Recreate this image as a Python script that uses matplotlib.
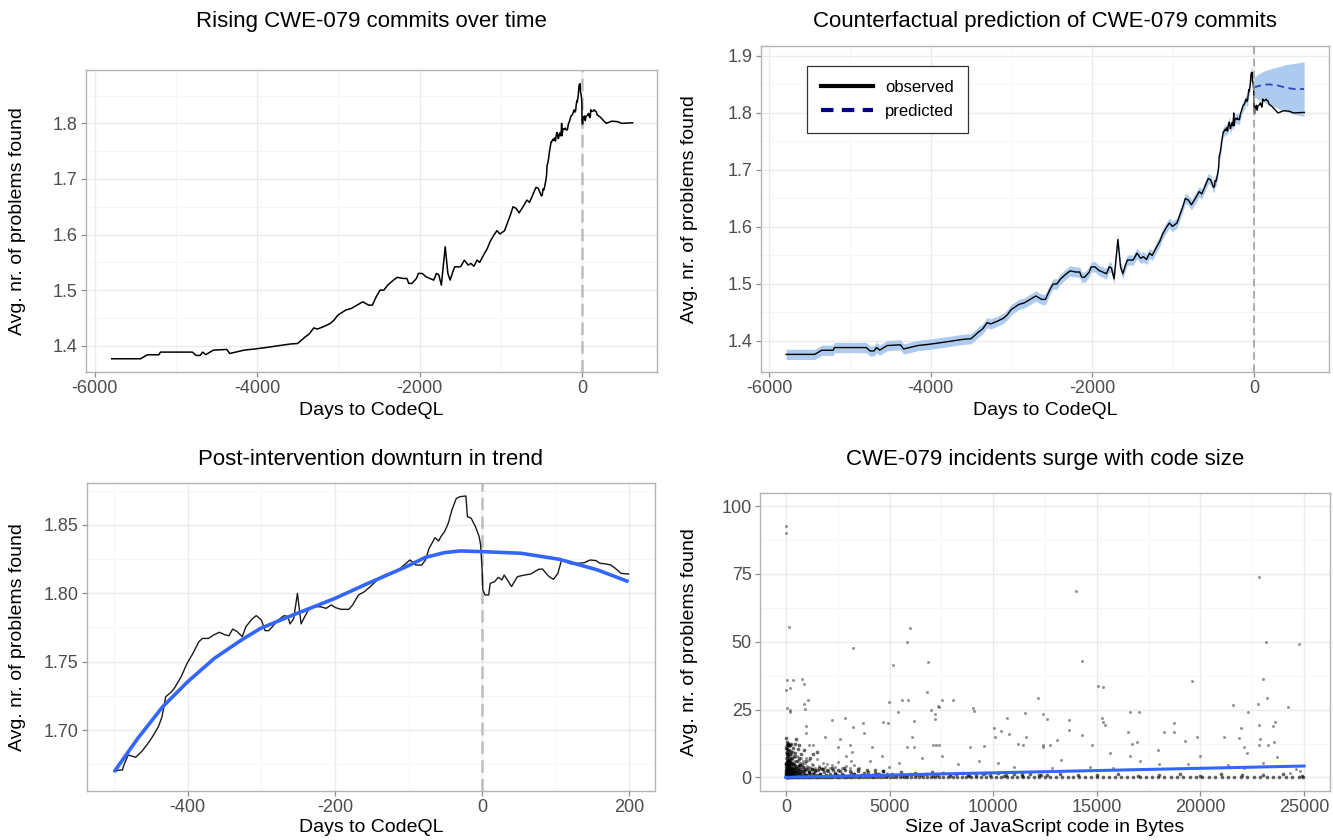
import numpy as np
import matplotlib
matplotlib.use("Agg")
import matplotlib.pyplot as plt
from matplotlib.ticker import AutoMinorLocator, FormatStrFormatter
from matplotlib.lines import Line2D

plt.rcParams['font.family'] = ['Liberation Sans', 'DejaVu Sans']
plt.rcParams['axes.unicode_minus'] = False

# daily mean of problems found, relative to CodeQL introduction (day 0)
days = [-5788, -5434, -5349, -5208, -5189, -4797, -4750, -4700, -4670, -4630, -4538, -4373,
        -4335, -4160, -4005, -3877, -3736, -3594, -3500, -3406, -3358, -3302, -3255, -3170,
        -3099, -3052, -3005, -2910, -2840, -2769, -2698, -2627, -2580, -2533, -2486, -2439,
        -2392, -2321, -2274, -2203, -2156, -2132, -2094, -2038, -2014, -1967, -1920, -1873,
        -1825, -1792, -1764, -1731, -1684, -1651, -1623, -1590, -1566, -1495, -1448, -1401,
        -1368, -1330, -1292, -1259, -1212, -1165, -1132, -1085, -1047, -1009, -953, -882,
        -849, -811, -774, -726, -679, -646, -599, -566, -538,
        -500, -494, -489, -486, -481, -476, -471, -463, -455, -448, -440, -435, -430, -422,
        -417, -409, -401, -393, -385, -380, -372, -365, -357, -349, -344, -339, -333, -326,
        -321, -313, -307, -300, -295, -290, -285, -277, -269, -264, -261, -256, -251, -246,
        -241, -235, -228, -220, -212, -205, -199, -192, -181, -176, -168, -160, -153, -145,
        -137, -129, -121, -114, -106, -98, -90, -82, -77, -72, -64, -59, -56, -51, -46, -41,
        -35, -30, -22, -20, -15, -9, -4, -2, 0, 1, 4, 9, 11, 17, 22, 27, 30, 35, 40, 48, 58,
        66, 77, 82, 90, 97, 103, 108, 113, 121, 131, 139, 147, 155, 160, 168, 175, 181, 189,
        199, 226, 297, 368, 439, 486, 623]
avg_found = [1.3765, 1.3765, 1.3837, 1.3837, 1.3885, 1.3885, 1.3825, 1.3825, 1.3885, 1.384,
             1.392, 1.3933, 1.386, 1.392, 1.3945, 1.397, 1.400, 1.403, 1.404, 1.416, 1.421,
             1.432, 1.430, 1.435, 1.440, 1.446, 1.455, 1.464, 1.467, 1.473, 1.479, 1.473,
             1.473, 1.488, 1.500, 1.500, 1.509, 1.518, 1.523, 1.521, 1.521, 1.512, 1.512,
             1.521, 1.530, 1.530, 1.524, 1.521, 1.518, 1.530, 1.528, 1.509, 1.578, 1.530,
             1.518, 1.533, 1.542, 1.542, 1.554, 1.545, 1.548, 1.543, 1.554, 1.550, 1.563,
             1.575, 1.587, 1.599, 1.607, 1.601, 1.607, 1.635, 1.650, 1.647, 1.639, 1.650,
             1.662, 1.658, 1.674, 1.685, 1.683,
             1.6695, 1.6707, 1.6707, 1.6756, 1.6817, 1.681, 1.680, 1.6841, 1.6895, 1.6951,
             1.7024, 1.7098, 1.7244, 1.728, 1.7317, 1.739, 1.7488, 1.7561, 1.7646, 1.767,
             1.767, 1.7695, 1.7715, 1.7695, 1.769, 1.7739, 1.772, 1.7683, 1.7756, 1.781,
             1.7837, 1.7805, 1.7727, 1.7727, 1.7756, 1.7805, 1.7837, 1.783, 1.7776, 1.7817,
             1.800, 1.7776, 1.783, 1.789, 1.7902, 1.7902, 1.789, 1.7915, 1.7895, 1.7883,
             1.7883, 1.7915, 1.7988, 1.8012, 1.8044, 1.8085, 1.8122, 1.8141, 1.8151, 1.8171,
             1.8207, 1.8244, 1.8207, 1.8207, 1.8244, 1.8329, 1.8407, 1.8383, 1.8415, 1.8451,
             1.8512, 1.861, 1.8695, 1.8707, 1.8712, 1.8561, 1.855, 1.8488, 1.8415, 1.8354,
             1.817, 1.8024, 1.7988, 1.7988, 1.8073, 1.8085, 1.8117, 1.8098, 1.8134, 1.8093,
             1.8049, 1.8122, 1.8134, 1.8141, 1.8176, 1.8178, 1.8127, 1.8102, 1.8146, 1.8244,
             1.8232, 1.8215, 1.822, 1.8224, 1.8244, 1.8239, 1.822, 1.8215, 1.8207, 1.8183,
             1.8146, 1.8141, 1.811, 1.800, 1.804, 1.803, 1.800, 1.801]
band_half = 0.009  # half width of the model band before day 0

# counterfactual after day 0
pred_days = [0, 50, 100, 150, 200, 250, 300, 350, 400, 450, 500, 550, 620]
pred_mean = [1.845, 1.847, 1.849, 1.850, 1.850, 1.849, 1.848, 1.846, 1.844, 1.843, 1.842, 1.842, 1.842]
pred_upper = [1.862, 1.868, 1.872, 1.875, 1.877, 1.879, 1.881, 1.883, 1.885, 1.886, 1.887, 1.888, 1.890]
pred_lower = [1.828, 1.824, 1.820, 1.817, 1.814, 1.811, 1.808, 1.805, 1.802, 1.800, 1.798, 1.796, 1.794]

# smoothed trend around the intervention
smooth_days = [-500, -468, -434, -400, -364, -327, -301, -259, -200, -155, -103, -77, -51, -30,
               0, 53, 105, 157, 199]
smooth_vals = [1.6695, 1.6939, 1.7171, 1.7354, 1.7524, 1.7659, 1.7744, 1.7837, 1.7963, 1.8073,
               1.8195, 1.8263, 1.8298, 1.8310, 1.8305, 1.8293, 1.8249, 1.8171, 1.8085]

# repositories: code size vs problems found
out_x = [0, 0, 140, 6000, 5830, 3260, 5190, 6850, 14000, 14300, 22830, 23180, 24760, 23020, 19570,
         15050, 15280, 12160, 7540, 8070, 5610, 5870, 4960, 6790, 23220, 24210, 22790, 21550, 60,
         320, 770, 850, 1050, 850, 910, 200, 20, 60, 180, 220, 9030, 9070, 7000, 7330, 7400, 7170,
         7190, 5410, 6170, 4700, 4940, 3730, 2860, 2230, 3220, 3770, 10660, 11550, 12380, 12600,
         13650, 15240, 15320, 15380, 16610, 17050, 18700, 18700, 18230, 16510, 22290, 23600,
         23520, 22820, 21940, 21150, 13650, 14300, 10050, 10400, 10090, 10760, 11570, 11220,
         11430, 12400, 12380, 12720, 14750, 13090, 16920, 16710, 17950, 19270, 19810, 20000,
         21860, 22090, 22260, 22880, 23560, 23280, 23700, 22830, 8900, 9300, 9580, 7080, 7220,
         7370, 6080, 6180, 5840, 6570, 7520, 5450, 4620, 4170, 3080, 2490, 2630, 1890, 1320, 1100,
         970, 990, 2880, 3180, 3140, 4070, 4960, 8310, 10210, 11000, 12830, 14690, 15760, 16610,
         17100, 18010, 19380, 21350, 22110, 23030, 24610, 24800, 24300, 13290, 15660]
out_y = [92.8, 89.9, 55.3, 55.0, 49.8, 47.7, 41.5, 42.4, 68.7, 43.0, 73.7, 49.8, 49.3, 36.1, 35.7,
         33.7, 33.3, 29.4, 28.7, 28.7, 28.7, 28.7, 27.7, 31.5, 29.1, 25.9, 26.9, 26.7, 36.0,
         36.0, 36.1, 34.5, 28.5, 26.9, 25.2, 32.9, 32.3, 25.7, 25.0, 24.0, 25.5, 24.3, 25.0, 26.5,
         26.0, 23.2, 21.7, 24.0, 20.9, 20.5, 20.0, 20.0, 22.0, 21.3, 18.6, 16.2, 22.0, 23.8, 23.3,
         21.6, 21.3, 22.0, 20.5, 19.4, 24.0, 24.0, 20.0, 16.6, 16.6, 16.8, 24.0, 20.5, 18.9, 19.2,
         18.1, 15.0, 17.6, 15.5, 18.1, 17.2, 15.0, 15.9, 15.0, 12.5, 11.9, 11.8, 11.1, 11.9, 11.8,
         13.7, 13.2, 12.5, 10.2, 13.5, 15.0, 7.9, 14.5, 11.1, 9.0, 14.0, 12.9, 12.0, 7.5, 12.0,
         11.1, 6.0, 11.5, 12.0, 12.0, 11.8, 15.0, 11.1, 11.1, 7.0, 7.9, 5.2, 7.9, 11.3, 11.8, 11.1,
         14.2, 15.0, 11.8, 11.8, 19.0, 16.2, 7.9, 9.5, 6.0, 6.0, 4.0, 4.9, 5.5, 4.0, 3.6, 4.0, 3.5,
         7.9, 6.0, 4.9, 4.9, 4.6, 3.6, 5.5, 3.0, 2.5, 1.5, 6.4, 9.0]
dense_x = [10, 30, 50, 80, 100, 120, 160, 200, 240, 20, 60, 90, 140, 30, 70, 110, 180, 260, 330,
           420, 500, 40, 80, 130, 200, 280, 380, 460, 560, 640, 20, 60, 100, 150, 220, 300, 400,
           520, 620, 750, 880, 30, 70, 120, 180, 250, 350, 450, 560, 680, 800, 950, 1150, 1300,
           1500, 20, 60, 110, 170, 240, 320, 400, 500, 600, 720, 850, 980, 1100, 1250, 1400, 1600,
           1800, 2000, 2200, 2500, 2800, 3100, 3500, 3900, 4300, 4700, 5, 25, 45, 75, 150, 15, 35,
           55, 85, 115, 135, 165, 195, 230, 270, 310, 360, 430, 510, 610, 700, 820, 960, 1120,
           1350, 1650, 1950, 2350, 2750, 3300, 3800, 4400, 4900, 5600, 6300, 7100, 7900, 8800,
           9600, 10500, 11400, 12300, 13200, 14100, 15000, 16000, 17000, 18000, 19000, 20000,
           21000, 22000, 23000, 24000, 24900]
dense_y = [14.5, 13.0, 12.0, 12.0, 12.2, 11.8, 12.0, 12.0, 12.3, 11.0, 10.5, 9.8, 10.0, 9.0, 8.5,
           8.0, 8.8, 9.5, 11.0, 12.5, 14.0, 7.0, 6.5, 6.0, 6.8, 7.2, 8.0, 9.0, 10.5, 12.0, 5.0,
           4.5, 5.2, 4.3, 4.8, 5.5, 5.0, 6.0, 7.0, 8.5, 10.0, 3.5, 3.0, 3.8, 3.2, 3.6, 3.0, 3.5,
           4.0, 4.5, 5.0, 6.0, 7.0, 8.5, 9.5, 2.2, 2.0, 2.5, 2.2, 2.6, 2.0, 2.4, 2.1, 2.6, 2.2, 2.8,
           3.0, 2.5, 3.2, 2.8, 3.5, 3.0, 2.6, 3.3, 2.8, 3.5, 2.5, 3.0, 2.6, 2.8, 2.4, 1.5, 1.2, 1.6,
           1.1, 1.4, 0.8, 0.9, 1.0, 0.7, 1.1, 0.8, 1.2, 0.9, 1.3, 1.0, 1.4, 1.1, 1.5, 0.9, 1.6, 1.2,
           1.3, 1.0, 1.5, 1.1, 1.3, 0.9, 1.2, 1.0, 1.4, 0.8, 1.1, 1.3, 0.7, 1.0, 0.6, 1.2, 0.8, 1.5,
           0.7, 1.1, 0.9, 1.3, 1.0, 0.8, 1.2, 0.6, 0.9, 1.1, 0.7, 1.4, 0.8, 1.0, 1.2, 0.6]
band_x = [5, 12, 20, 28, 35, 44, 52, 60, 70, 80, 90, 100, 112, 125, 138, 150, 165, 180, 195, 210,
          228, 246, 265, 285, 305, 330, 355, 380, 410, 440, 470, 500, 535, 570, 610, 650, 690, 735,
          780, 830, 880, 930, 990, 1050, 1110, 1180, 1250, 1320, 1400, 1480, 1560, 1650, 1740,
          1830, 1930, 2030, 2140, 2250, 2360, 2480, 2600, 2730, 2860, 3000, 3150, 3300, 3460,
          3620, 3790, 3960, 4140, 4320, 4510, 4700, 4900, 5100, 5320, 5540, 5770, 6000, 6250,
          6500, 6760, 7030, 7300, 7600, 7900, 8200, 8520, 8850, 9180, 9520, 9870, 10230, 10600,
          11000, 11400, 11800, 12200, 12600]
band_y = [4.8, 3.9, 2.6, 5.4, 1.7, 4.2, 3.1, 0.9, 6.2, 2.2, 4.6, 1.4, 3.7, 5.1, 2.9, 0.6, 4.4,
          3.3, 1.9, 5.8, 2.7, 4.0, 1.2, 3.5, 2.4, 4.9, 1.6, 3.0, 0.8, 4.1, 2.3, 3.6, 1.3, 2.8, 4.5,
          1.8, 3.2, 0.7, 2.5, 3.9, 1.5, 2.9, 0.9, 3.4, 2.1, 1.1, 3.0, 1.7, 2.4, 0.8, 2.7, 1.4, 3.1,
          1.9, 0.6, 2.3, 1.2, 2.8, 1.6, 0.9, 2.2, 1.3, 2.6, 0.7, 1.8, 1.1, 2.4, 0.8, 1.5, 2.0, 0.9,
          1.6, 1.2, 2.3, 0.7, 1.4, 1.0, 1.9, 0.6, 1.3, 1.7, 0.8, 1.1, 2.1, 0.9, 1.5, 0.7, 1.2, 1.8,
          0.6, 1.0, 1.4, 0.8, 1.6, 0.9, 1.2, 0.7, 1.3, 1.0, 0.8]
mid_x = [8, 18, 26, 38, 48, 58, 66, 76, 88, 96, 106, 118, 132, 146, 158, 172, 188, 204, 222, 240,
         262, 284, 308, 334, 362, 392, 424, 458, 494, 532, 572, 614, 658, 704, 752, 802, 856, 912,
         972, 1034, 1100, 1170, 1244, 1322, 1404, 1490, 1580, 1676, 1776, 1880, 1990, 2110, 2240,
         2380, 2530, 2700, 2880, 3080, 3300, 3540]
mid_y = [9.5, 7.2, 11.3, 6.1, 8.8, 5.3, 10.4, 7.9, 6.6, 12.8, 5.7, 9.1, 6.9, 8.2, 4.9, 11.6, 7.4,
         5.8, 9.9, 6.3, 8.6, 5.1, 7.0, 4.6, 9.3, 6.0, 7.7, 4.4, 5.9, 8.0, 4.2, 6.5, 5.2, 7.3, 4.0,
         6.2, 3.8, 5.4, 7.1, 4.3, 6.4, 3.7, 5.0, 4.6, 3.5, 6.8, 4.1, 3.6, 5.3, 3.9, 4.8, 3.4, 4.4,
         3.8, 5.6, 3.3, 4.2, 3.6, 4.7, 3.5]
zero_x = [0, 15, 40, 70, 95, 130, 170, 210, 260, 300, 350, 410, 470, 520, 590, 650, 720, 790, 860,
          930, 1010, 1090, 1170, 1260, 1340, 1430, 1520, 1610, 1700, 1800, 1890, 1990, 2080, 2190,
          2290, 2400, 2510, 2620, 2740, 2850, 2970, 3090, 3210, 3340, 3460, 3590, 3720, 3860, 3990,
          4130, 4270, 4410, 4560, 4700, 4850, 5010, 5170, 5330, 5500, 5680, 5850, 6030, 6220,
          6400, 6590, 6790, 6980, 7190, 7390, 7600, 7820, 8040, 8260, 8490, 8710, 8950, 9180,
          9420, 9660, 9900, 10150, 10400, 10650, 10910, 11160, 11420, 11690, 11950, 12220, 12490,
          12760, 13040, 13310, 13590, 13870, 14150, 14440, 14720, 15010, 15300, 15590, 15880,
          16170, 16470, 16760, 17060, 17360, 17660, 17960, 18260, 18560, 18870, 19170, 19480,
          19780, 20090, 20400, 20710, 21020, 21330, 21640, 21950, 22260, 22570, 22880, 23190,
          23500, 23810, 24120, 24430, 24740, 24950]
lm_x = [0, 25000]
lm_y = [0.03, 4.2]

W, H = 1333, 840
fig = plt.figure(figsize=(W / 100, H / 100), dpi=100)


def make_ax(left, top, right, bottom):
    return fig.add_axes([left / W, 1 - bottom / H, (right - left) / W, (bottom - top) / H])


def style(ax):
    for s in ax.spines.values():
        s.set_color('#B3B3B3')
        s.set_linewidth(1.0)
    ax.xaxis.set_minor_locator(AutoMinorLocator(2))
    ax.yaxis.set_minor_locator(AutoMinorLocator(2))
    ax.grid(which='major', color='#EBEBEB', lw=1.0)
    ax.grid(which='minor', color='#F5F5F5', lw=0.6)
    ax.set_axisbelow(True)
    ax.tick_params(which='major', length=3.5, width=0.9, color='#8C8C8C',
                   labelsize=13, labelcolor='#4D4D4D', pad=2.5)
    ax.tick_params(which='minor', length=0)


def ylab(x_px, ax_top, ax_bottom):
    fig.text(x_px / W, 1 - (ax_top + ax_bottom) / 2 / H, 'Avg. nr. of problems found',
             rotation=90, ha='center', va='center', fontsize=14)


def xlab(text, cx, y_px):
    fig.text(cx / W, 1 - y_px / H, text, ha='center', va='center', fontsize=14)


def title(text, cx, y_px):
    fig.text(cx / W, 1 - y_px / H, text, ha='center', va='baseline', fontsize=16)


# top left
ax1 = make_ax(86, 70, 657, 372)
style(ax1)
ax1.plot(days, avg_found, color='black', lw=1.1)
ax1.axvline(0, color='#BEBEBE', lw=1.8, ls=(0, (5, 2.5)), zorder=1)
ax1.set_xlim(-6105, 923)
ax1.set_ylim(1.3527, 1.896)
ax1.set_xticks([-6000, -4000, -2000, 0])
ax1.set_yticks([1.4, 1.5, 1.6, 1.7, 1.8])
title('Rising CWE-079 commits over time', 371, 27)
ylab(18, 70, 372)
xlab('Days to CodeQL', 371, 410)

# top right
ax2 = make_ax(761, 46, 1329, 372)
style(ax2)
obs = np.array(avg_found)
d = np.array(days)
pre = d <= 0
ax2.fill_between(d[pre], obs[pre] - band_half, obs[pre] + band_half, color='#ADCBEE', lw=0)
ax2.fill_between(pred_days, pred_lower, pred_upper, color='#ADCBEE', lw=0)
ax2.plot(days, avg_found, color='black', lw=1.0)
ax2.plot(pred_days, pred_mean, color='#2F45BE', lw=1.3, ls=(0, (4, 2.5)))
ax2.axvline(0, color='#9A9A9A', lw=1.1, ls=(0, (5, 3)), zorder=3)
ax2.set_xlim(-6099, 928)
ax2.set_ylim(1.3456, 1.9175)
ax2.set_xticks([-6000, -4000, -2000, 0])
ax2.set_yticks([1.4, 1.5, 1.6, 1.7, 1.8, 1.9])
handles = [Line2D([], [], color='black', lw=3.0),
           Line2D([], [], color='#00008B', lw=3.0, ls=(0, (3, 2)))]
leg = ax2.legend(handles, ['observed', 'predicted'], loc='upper left',
                 bbox_to_anchor=(0.081, 0.939), borderaxespad=0, fontsize=12,
                 handlelength=3.1, handletextpad=0.75, borderpad=0.85, labelspacing=0.55,
                 fancybox=False, framealpha=1)
leg.get_frame().set_edgecolor('#333333')
leg.get_frame().set_linewidth(0.9)
title('Counterfactual prediction of CWE-079 commits', 1045, 27)
ylab(690, 46, 372)
xlab('Days to CodeQL', 1045, 410)

# bottom left
ax3 = make_ax(87, 483, 655, 791)
style(ax3)
win = (d >= -500) & (d <= 200)
ax3.plot(d[win], obs[win], color='#1A1A1A', lw=1.0)
ax3.plot(smooth_days, smooth_vals, color='#3366FF', lw=2.6, solid_capstyle='butt')
ax3.axvline(0, color='#BEBEBE', lw=1.8, ls=(0, (5, 2.5)), zorder=1)
ax3.set_xlim(-537, 235)
ax3.set_ylim(1.6554, 1.8807)
ax3.set_xticks([-400, -200, 0, 200])
ax3.set_yticks([1.70, 1.75, 1.80, 1.85])
ax3.yaxis.set_major_formatter(FormatStrFormatter('%.2f'))
title('Post-intervention downturn in trend', 371, 465)
ylab(18, 483, 791)
xlab('Days to CodeQL', 371, 828)

# bottom right
ax4 = make_ax(760, 493, 1330, 791)
style(ax4)
pt = dict(s=5, color='black', alpha=0.4, lw=0)
packed = dict(s=7, color='black', alpha=0.6, lw=0)
ax4.scatter(zero_x, [0] * len(zero_x), **packed)
ax4.scatter(band_x, band_y, **packed)
ax4.scatter(mid_x, mid_y, **pt)
ax4.scatter(dense_x, dense_y, **packed)
ax4.scatter(out_x, out_y, **pt)
ax4.plot(lm_x, lm_y, color='#3366FF', lw=2.2, zorder=1.5)
ax4.set_xlim(-1250, 26250)
ax4.set_ylim(-5.0, 104.8)
ax4.set_xticks([0, 5000, 10000, 15000, 20000, 25000])
ax4.set_yticks([0, 25, 50, 75, 100])
title('CWE-079 incidents surge with code size', 1045, 465)
ylab(690, 493, 791)
xlab('Size of JavaScript code in Bytes', 1045, 828)

fig.savefig('out.png', dpi=100, facecolor='white')
